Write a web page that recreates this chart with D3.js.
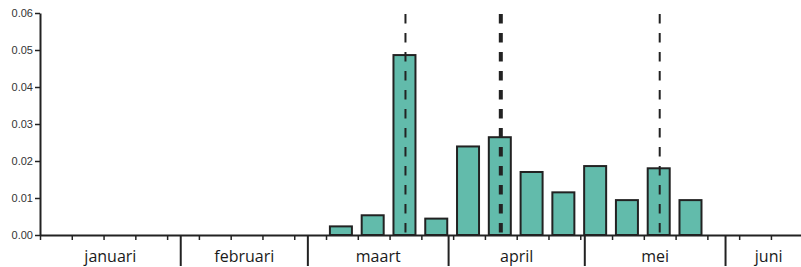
<!DOCTYPE html>
<html>
<head>
<meta charset="utf-8">
<script src="https://cdn.jsdelivr.net/npm/d3@7"></script>
<style>
  body { margin: 0; background: #fff; }
  svg { display: block; }
</style>
</head>
<body>
<div id="chart"></div>
<script>
// weeks since 1 januari (0-indexed) and the share per week
const weeks = [9, 10, 11, 12, 13, 14, 15, 16, 17, 18, 19, 20];
const values = [0.0026, 0.0056, 0.0489, 0.0047, 0.0242, 0.0267, 0.0173, 0.0118, 0.0189, 0.0097, 0.0183, 0.0097];

const months = ["januari", "februari", "maart", "april", "mei", "juni"];
const monthStarts = [0, 31, 59, 90, 120, 151];

// dashed reference lines (week index) and whether the line is the heavy one
const markerWeeks = [11, 14, 19];
const markerHeavy = [false, true, false];

const yTicks = [0, 0.01, 0.02, 0.03, 0.04, 0.05, 0.06];

const width = 801, height = 267;
const marginLeft = 40, plotTop = 13, plotBottom = 235;
const dayEnd = 170;

const svg = d3.select("#chart").append("svg")
    .attr("width", width)
    .attr("height", height);

const x = d3.scaleLinear().domain([0, dayEnd]).range([marginLeft, marginLeft + dayEnd * 4.54]);
const y = d3.scaleLinear().domain([0, 0.06]).range([plotBottom, plotTop]);

const ink = "#222";

// bars
svg.append("g").selectAll("rect")
    .data(weeks.map((w, i) => ({ w: w, v: values[i] })))
    .join("rect")
    .attr("x", d => x(d.w * 7 + 3.5) - 12)
    .attr("width", 22)
    .attr("y", d => y(d.v) + 1)
    .attr("height", d => y(0) - y(d.v) - 1)
    .attr("fill", "#62bbab")
    .attr("stroke", ink)
    .attr("stroke-width", 2);

// dashed lines over the bars
svg.append("g").selectAll("line")
    .data(markerWeeks.map((w, i) => ({ w: w, heavy: markerHeavy[i] })))
    .join("line")
    .attr("x1", d => x(d.w * 7 + 3.5))
    .attr("x2", d => x(d.w * 7 + 3.5))
    .attr("y1", y(0.06) + 1)
    .attr("y2", y(0) + 5)
    .attr("stroke", ink)
    .attr("stroke-width", d => d.heavy ? 4 : 2)
    .attr("stroke-dasharray", "9.5,9.5");

// y axis
const yAxis = svg.append("g")
    .attr("transform", `translate(${marginLeft},0)`)
    .call(d3.axisLeft(y).tickValues(yTicks).tickFormat(d3.format(".2f")).tickSize(5).tickSizeOuter(0));
yAxis.select(".domain").attr("stroke", ink).attr("stroke-width", 2);
yAxis.selectAll(".tick line").attr("stroke", ink).attr("stroke-width", 1.5);
yAxis.selectAll(".tick text")
    .attr("x", -7)
    .attr("fill", "#333")
    .style("font-family", "'Liberation Sans', Arial, sans-serif")
    .style("font-size", "11px");

// x axis with week ticks
const weekTicks = d3.range(0, dayEnd, 7);
const xAxis = svg.append("g")
    .attr("transform", `translate(0,${plotBottom})`)
    .call(d3.axisBottom(x).tickValues(weekTicks).tickFormat("").tickSize(5).tickSizeOuter(0));
xAxis.select(".domain").attr("stroke", ink).attr("stroke-width", 2);
xAxis.selectAll(".tick line").attr("stroke", ink).attr("stroke-width", 1.5);

// month separators
svg.append("g").selectAll("line")
    .data(monthStarts.slice(1))
    .join("line")
    .attr("x1", d => x(d))
    .attr("x2", d => x(d))
    .attr("y1", plotBottom)
    .attr("y2", plotBottom + 31)
    .attr("stroke", ink)
    .attr("stroke-width", 2);

// month labels
svg.append("g").selectAll("text")
    .data(months)
    .join("text")
    .attr("x", (d, i) => x((monthStarts[i] + (i + 1 < monthStarts.length ? monthStarts[i + 1] : dayEnd)) / 2))
    .attr("y", 262)
    .attr("text-anchor", "middle")
    .attr("fill", "#1a1a1a")
    .style("font-family", "'Open Sans', sans-serif")
    .style("font-size", "16px")
    .text(d => d);
</script>
</body>
</html>
